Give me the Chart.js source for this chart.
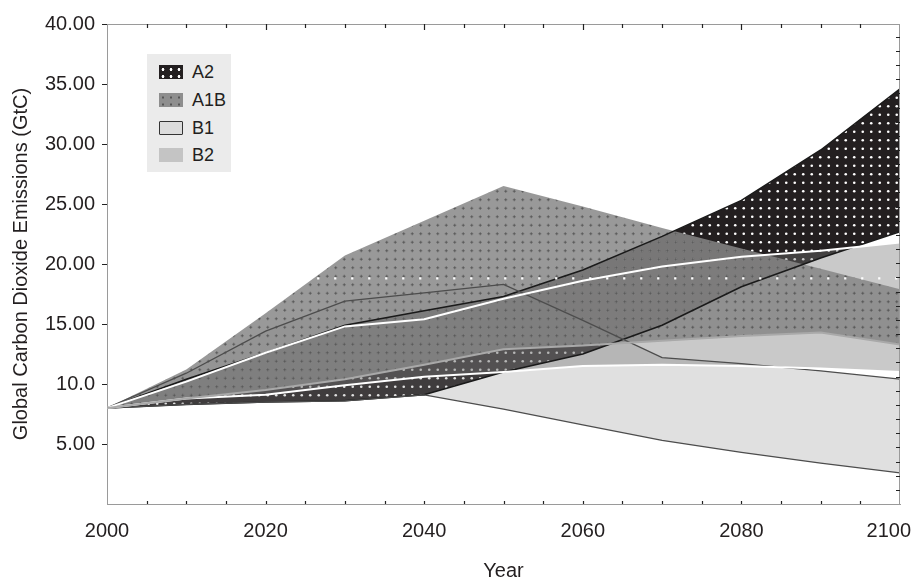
<!DOCTYPE html>
<html lang="en">
<head>
<meta charset="UTF-8">
<title>Global Carbon Dioxide Emissions</title>
<script src="https://cdn.jsdelivr.net/npm/chart.js"></script>
<style>
	html, body { margin: 0; padding: 0; background: #fff; }
	.janela { position: relative; width: 915px; height: 585px; }
	#legenda {
		position: absolute; left: 147px; top: 54px; width: 84px; height: 118px;
		background: #ebebeb; font: 18px 'Liberation Sans', Arial, sans-serif; color: #231f20;
	}
	.item { position: absolute; left: 12px; height: 14px; display: flex; align-items: center; white-space: nowrap; }
	.swatch { width: 24px; height: 14px; box-sizing: border-box; margin-right: 9px; flex: none; }
</style>
</head>
<body>
<div class="janela">
	<canvas id="grafico" width="915" height="585"></canvas>
	<div id="legenda"></div>
</div>
<script>
	// anos e limites de cada faixa (GtC)
	const years   = [2000, 2010, 2020, 2030, 2040, 2050, 2060, 2070, 2080, 2090, 2100];
	const a2High  = [8.0, 10.4, 12.6, 14.9, 16.1, 17.3, 19.5, 22.3, 25.3, 29.5, 34.6];
	const a2Low   = [8.0, 8.3, 8.5, 8.6, 9.1, 11.0, 12.5, 14.9, 18.1, 20.5, 22.7];
	const a1bHigh = [8.0, 11.2, 15.9, 20.7, 23.6, 26.5, 24.8, 23.0, 21.3, 19.6, 17.9];
	const a1bLow  = [8.0, 8.8, 9.5, 10.4, 11.6, 12.9, 13.2, 13.6, 14.0, 14.3, 13.3];
	const b1High  = [8.0, 10.9, 14.4, 16.9, 17.6, 18.3, 15.3, 12.2, 11.7, 11.1, 10.4];
	const b1Low   = [8.0, 8.3, 8.5, 8.6, 9.1, 7.9, 6.6, 5.3, 4.3, 3.4, 2.6];
	const b2High  = [8.0, 10.2, 12.6, 14.8, 15.4, 17.1, 18.6, 19.8, 20.6, 21.1, 21.8];
	const b2Low   = [8.0, 8.8, 9.1, 9.9, 10.6, 11.0, 11.5, 11.6, 11.5, 11.3, 11.0];
	// linha pontilhada branca
	const dotRowYears  = [2026.5, 2100];
	const dotRowValues = [18.8, 18.8];

	const yTicks = [5, 10, 15, 20, 25, 30, 35, 40];
	const xLabels = [2000, 2020, 2040, 2060, 2080, 2100];
	const rightTickStep = 1.18;

	const fonte = "'Liberation Sans', Arial, sans-serif";
	const corTexto = '#231f20';

	function pontos(xs, ys) {
		return xs.map((x, i) => ({ x: x, y: ys[i] }));
	}

	function padrao(fundo, corPonto, raio, cruz) {
		var c = document.createElement('canvas');
		c.width = 17; c.height = 17;
		var g = c.getContext('2d');
		g.fillStyle = fundo;
		g.fillRect(0, 0, 17, 17);
		g.fillStyle = corPonto;
		[[4.25, 4.25], [12.75, 4.25], [4.25, 12.75], [12.75, 12.75]].forEach(p => {
			if (cruz) {
				g.fillRect(p[0] - 1.5, p[1] - 0.5, 3, 1);
				g.fillRect(p[0] - 0.5, p[1] - 1.5, 1, 3);
			} else {
				g.beginPath();
				g.arc(p[0], p[1], raio, 0, Math.PI * 2);
				g.fill();
			}
		});
		return g.createPattern(c, 'repeat');
	}

	var ctx = document.getElementById('grafico').getContext('2d');
	var fillA2 = padrao('rgb(35,31,32)', '#ffffff', 1.3, false);
	var fillA1B = padrao('rgba(135,135,135,0.85)', 'rgba(80,80,80,0.75)', 1, true);
	var fillB1 = 'rgba(141,141,141,0.27)';
	var fillB2 = 'rgba(116,116,116,0.39)';

	const marcasEixos = {
		id: 'marcasEixos',
		afterDraw(chart) {
			const a = chart.chartArea;
			const x = chart.scales.x, y = chart.scales.y;
			const c = chart.ctx;
			c.save();
			c.strokeStyle = '#9a9a9a';
			c.lineWidth = 1;
			c.beginPath();
			c.moveTo(a.left, a.top + 0.5); c.lineTo(a.right, a.top + 0.5);
			c.moveTo(a.right - 0.5, a.top); c.lineTo(a.right - 0.5, a.bottom);
			c.stroke();
			c.strokeStyle = '#222';
			c.lineWidth = 1.2;
			c.beginPath();
			for (var ano = 2005; ano < 2100; ano += 5) {
				var px = Math.round(x.getPixelForValue(ano)) + 0.5;
				c.moveTo(px, a.top); c.lineTo(px, a.top + (ano % 20 === 0 ? 6 : 4));
				c.moveTo(px, a.bottom); c.lineTo(px, a.bottom - 3);
			}
			yTicks.forEach(v => {
				var py = Math.round(y.getPixelForValue(v)) + 0.5;
				c.moveTo(a.left - 5, py); c.lineTo(a.left, py);
			});
			for (var v = rightTickStep; v < 40; v += rightTickStep) {
				var py = Math.round(y.getPixelForValue(v)) + 0.5;
				c.moveTo(a.right - 4, py); c.lineTo(a.right, py);
			}
			c.stroke();
			// rótulos do eixo x (o último encostado na borda)
			c.fillStyle = corTexto;
			c.font = '20px ' + fonte;
			c.textAlign = 'center';
			c.textBaseline = 'middle';
			xLabels.forEach(v => {
				var txt = String(v);
				var w = c.measureText(txt).width;
				var cx = Math.min(x.getPixelForValue(v), 911 - w / 2);
				c.fillText(txt, cx, a.bottom + 27);
			});
			c.restore();
		}
	};

	function faixa(dados, cor, larg, fundo) {
		return {
			data: pontos(years, dados),
			borderColor: cor,
			borderWidth: larg,
			backgroundColor: fundo || 'transparent',
			fill: fundo ? '+1' : false,
			pointRadius: 0,
			tension: 0
		};
	}

	new Chart(ctx, {
		type: 'line',
		data: {
			datasets: [
				{
					data: pontos(dotRowYears, dotRowValues),
					borderColor: '#ffffff', borderWidth: 2.2, borderDash: [2.2, 14.8],
					pointRadius: 0, fill: false
				},
				faixa(a1bHigh, 'rgba(0,0,0,0)', 0, fillA1B),
				faixa(a1bLow, '#a9a9a9', 2),
				faixa(b2High, '#ffffff', 2, fillB2),
				faixa(b2Low, '#ffffff', 2),
				faixa(b1High, '#4d4d4d', 1.3, fillB1),
				faixa(b1Low, '#4d4d4d', 1.3),
				faixa(a2High, '#1a1a1a', 1.5, fillA2),
				faixa(a2Low, '#1a1a1a', 1.5)
			]
		},
		options: {
			responsive: false,
			animation: false,
			layout: { padding: { left: 0, right: 15, top: 17, bottom: 0 } },
			plugins: {
				legend: { display: false },
				tooltip: { enabled: false },
				filler: { drawTime: 'beforeDatasetsDraw', propagate: false }
			},
			scales: {
				x: {
					type: 'linear', min: 2000, max: 2100,
					afterBuildTicks: s => { s.ticks = xLabels.map(v => ({ value: v })); },
					ticks: { display: false },
					grid: { display: false, drawTicks: false },
					border: { display: true, color: '#9a9a9a' },
					title: { display: true, text: 'Year', color: corTexto, font: { family: fonte, size: 20 }, padding: { top: 4, bottom: 2 } },
					afterFit: s => { s.height = 81; s.paddingLeft = 0; s.paddingRight = 0; }
				},
				y: {
					min: 0, max: 40,
					afterBuildTicks: s => { s.ticks = yTicks.map(v => ({ value: v })); },
					ticks: {
						padding: 12, color: corTexto, font: { family: fonte, size: 20 },
						callback: v => v === 10 ? '10.0' : v.toFixed(2)
					},
					grid: { display: false, drawTicks: false },
					border: { display: true, color: '#9a9a9a' },
					title: { display: true, text: 'Global Carbon Dioxide Emissions (GtC)', color: corTexto, font: { family: fonte, size: 20 }, padding: { top: 9, bottom: 4 } },
					afterFit: s => { s.width = 107; }
				}
			}
		},
		plugins: [marcasEixos]
	});

	// legenda
	var itens = [
		{ nome: 'A2', estilo: 'background:#231f20 radial-gradient(circle, #fff 1.1px, transparent 1.7px) 0 1px / 8px 7px;' },
		{ nome: 'A1B', estilo: 'background:#8e8e8e radial-gradient(circle, #555 0.8px, transparent 1.4px) 0 1px / 8px 7px;' },
		{ nome: 'B1', estilo: 'background:#dcdcdc; border:1px solid #333; border-radius:1px;' },
		{ nome: 'B2', estilo: 'background:#c4c4c4;' }
	];
	var topos = [11, 39, 67, 94];
	var legenda = document.getElementById('legenda');
	itens.forEach((it, i) => {
		var d = document.createElement('div');
		d.className = 'item';
		d.style.top = topos[i] + 'px';
		d.innerHTML = '<span class="swatch" style="' + it.estilo + '"></span>' + it.nome;
		legenda.appendChild(d);
	});
</script>
</body>
</html>
